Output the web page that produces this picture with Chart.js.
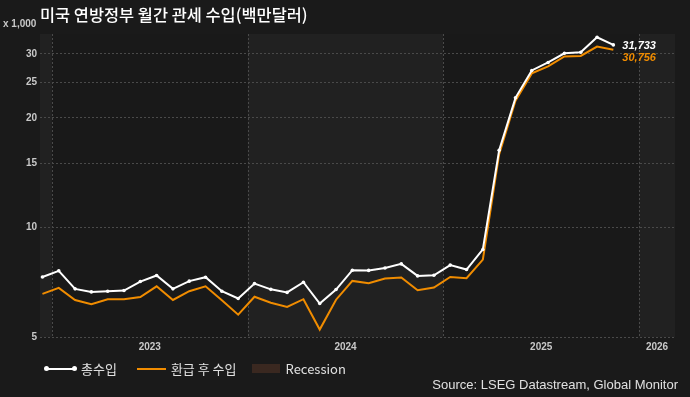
<!DOCTYPE html>
<html>
<head>
<meta charset="utf-8">
<script src="https://cdn.jsdelivr.net/npm/chart.js@4"></script>
<style>
  html, body { margin:0; padding:0; background:#1a1a1a; }
  #wrap { position:relative; width:690px; height:397px; overflow:hidden; background:#1a1a1a; font-family:"Liberation Sans", Arial, sans-serif; }
  canvas { position:absolute; left:0; top:0; }
  #title { position:absolute; left:40px; top:2px; color:#ffffff; font:500 16.4px "Noto Sans CJK KR", "Liberation Sans", sans-serif; white-space:nowrap; }
  #unit { position:absolute; left:3px; top:18px; color:#c8c8c8; font:bold 10px "Liberation Sans", Arial, sans-serif; white-space:nowrap; }
  #legend { position:absolute; left:45px; top:359px; display:flex; align-items:center; color:#e0e0e0; font:13px "Noto Sans CJK KR", "Liberation Sans", sans-serif; white-space:nowrap; }
  .item { display:flex; align-items:center; margin-right:12px; }
  .ln { position:relative; width:31px; height:2px; margin-right:5px; }
  .dot { position:absolute; top:-1.5px; width:5px; height:5px; border-radius:50%; background:#fff; }
  .box { width:28px; height:9px; background:#3a2820; margin-right:6px; }
  #source { position:absolute; right:12px; top:377px; color:#e0e0e0; font:13px "Liberation Sans Narrow", "Liberation Sans", Arial, sans-serif; white-space:nowrap; }
</style>
</head>
<body>
<div id="wrap">
  <canvas id="c" width="690" height="397"></canvas>
  <div id="title">미국 연방정부 월간 관세 수입(백만달러)</div>
  <div id="unit">x 1,000</div>
  <div id="legend">
    <div class="item"><div class="ln" style="background:#ffffff"><span class="dot" style="left:-1px"></span><span class="dot" style="right:-1px"></span></div><span>총수입</span></div>
    <div class="item" style="margin-left:8px"><div class="ln" style="background:#f08c00;width:29px"></div><span>환급 후 수입</span></div>
    <div class="item" style="margin-left:3px"><div class="box"></div><span>Recession</span></div>
  </div>
  <div id="source">Source: LSEG Datastream, Global Monitor</div>
</div>
<script>
// ---- data (values in thousands of millions USD, i.e. x 1,000) ----
const months = ['2022-12','2023-01','2023-02','2023-03','2023-04','2023-05','2023-06','2023-07','2023-08','2023-09','2023-10','2023-11',
                '2023-12','2024-01','2024-02','2024-03','2024-04','2024-05','2024-06','2024-07','2024-08','2024-09','2024-10','2024-11',
                '2024-12','2025-01','2025-02','2025-03','2025-04','2025-05','2025-06','2025-07','2025-08','2025-09','2025-10','2025-11'];
const totalReceipts = [7.31, 7.60, 6.78, 6.65, 6.68, 6.71, 7.10, 7.38, 6.78, 7.12, 7.30, 6.68,
                       6.38, 7.01, 6.76, 6.63, 7.07, 6.18, 6.75, 7.63, 7.62, 7.74, 7.94, 7.36,
                       7.39, 7.88, 7.66, 8.70, 16.3, 22.7, 27.0, 28.4, 30.1, 30.3, 33.3, 31.733];
const netOfRefunds = [6.57, 6.82, 6.32, 6.15, 6.35, 6.35, 6.44, 6.89, 6.32, 6.68, 6.89, 6.31,
                      5.76, 6.45, 6.21, 6.05, 6.35, 5.24, 6.33, 7.13, 7.03, 7.24, 7.29, 6.72,
                      6.84, 7.31, 7.25, 8.16, 15.9, 22.3, 26.5, 27.7, 29.5, 29.6, 31.4, 30.756];
const yTicks = [5, 10, 15, 20, 25, 30];
const yearLabels = ['2023', '2024', '2025', '2026'];
const seriesNames = ['총수입', '환급 후 수입'];

// month index relative to Jan 2023
function mIndex(s) { const [y, m] = s.split('-').map(Number); return (y - 2023) * 12 + (m - 1) + 0.42; }
const X_MIN = -0.73, X_MAX = 38.2;
const yearStarts = [-12, 0, 12, 24, 36];
const yearTickPos = [6, 18, 30, (36 + X_MAX) / 2];

const bandsPlugin = {
  id: 'bands',
  beforeDraw(chart) {
    const { ctx, chartArea: a, scales: { x } } = chart;
    ctx.save();
    for (let i = 0; i < yearStarts.length; i++) {
      const s = Math.max(yearStarts[i], X_MIN), e = Math.min(yearStarts[i] + 12, X_MAX);
      if (e <= s) continue;
      const x0 = x.getPixelForValue(s), x1 = x.getPixelForValue(e);
      ctx.fillStyle = (i % 2 === 0) ? '#212121' : '#191919';
      ctx.fillRect(x0, a.top, x1 - x0, a.bottom - a.top);
    }
    ctx.strokeStyle = '#4a4a4a';
    ctx.lineWidth = 1;
    ctx.setLineDash([2, 2]);
    for (const ys of yearStarts) {
      if (ys <= X_MIN || ys >= X_MAX) continue;
      const px = Math.round(x.getPixelForValue(ys)) + 0.5;
      ctx.beginPath(); ctx.moveTo(px, a.top); ctx.lineTo(px, a.bottom); ctx.stroke();
    }
    ctx.restore();
  }
};

const endLabelPlugin = {
  id: 'endLabels',
  afterDatasetsDraw(chart) {
    const { ctx } = chart;
    const m0 = chart.getDatasetMeta(0);
    const p0 = m0.data[m0.data.length - 1];
    const fmt = v => Math.round(v * 1000).toLocaleString('en-US');
    ctx.save();
    ctx.font = 'italic bold 11px "Liberation Sans", Arial, sans-serif';
    ctx.textBaseline = 'middle';
    ctx.textAlign = 'left';
    ctx.fillStyle = '#ffffff';
    const ly = p0.y + 1;
    ctx.fillText(fmt(totalReceipts[totalReceipts.length - 1]), p0.x + 9, ly);
    ctx.fillStyle = '#f08c00';
    ctx.fillText(fmt(netOfRefunds[netOfRefunds.length - 1]), p0.x + 9, ly + 12);
    ctx.restore();
  }
};

const toXY = arr => arr.map((v, i) => ({ x: mIndex(months[i]), y: v }));

new Chart(document.getElementById('c'), {
  type: 'line',
  data: {
    datasets: [
      { label: seriesNames[0], data: toXY(totalReceipts), borderColor: '#ffffff', backgroundColor: '#ffffff',
        borderWidth: 2, pointRadius: 1.8, pointBackgroundColor: '#ffffff', pointBorderWidth: 0, tension: 0 },
      { label: seriesNames[1], data: toXY(netOfRefunds), borderColor: '#f08c00', backgroundColor: '#f08c00',
        borderWidth: 2, pointRadius: 0, tension: 0 }
    ]
  },
  options: {
    responsive: false,
    animation: false,
    events: [],
    layout: { padding: { top: 34, right: 15, left: 0, bottom: 0 } },
    plugins: { legend: { display: false }, tooltip: { enabled: false }, title: { display: false } },
    scales: {
      x: {
        type: 'linear', min: X_MIN, max: X_MAX,
        afterBuildTicks: s => { s.ticks = yearTickPos.map(v => ({ value: v })); },
        afterFit: s => { s.height = 60; },
        ticks: { color: '#c8c8c8', font: { family: '"Liberation Sans", Arial, sans-serif', size: 10, weight: 'bold' },
                 padding: 4, maxRotation: 0, autoSkip: false,
                 callback: (v, i) => yearLabels[i] },
        grid: { display: false, drawTicks: false },
        border: { display: false }
      },
      y: {
        type: 'logarithmic', min: 5, max: 34,
        afterBuildTicks: s => { s.ticks = yTicks.map(v => ({ value: v })); },
        afterFit: s => { s.width = 40; },
        ticks: { color: '#c8c8c8', font: { family: '"Liberation Sans", Arial, sans-serif', size: 10, weight: 'bold' },
                 padding: 3, autoSkip: false, callback: v => String(v) },
        grid: { color: '#4a4a4a', lineWidth: 1, drawTicks: false },
        border: { display: false, dash: [2, 2] }
      }
    }
  },
  plugins: [bandsPlugin, endLabelPlugin]
});
</script>
</body>
</html>
